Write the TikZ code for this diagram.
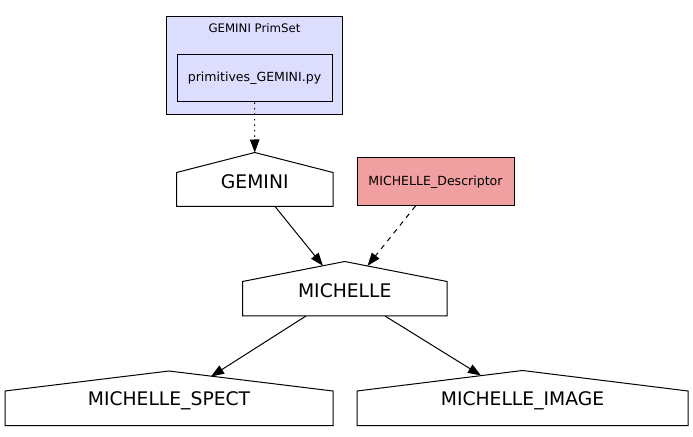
\documentclass[tikz,border=0pt]{standalone}
\usepackage{fontspec}
\setmainfont{DejaVu Sans}
\usetikzlibrary{arrows.meta}
\definecolor{lav}{RGB}{221,221,255}
\definecolor{descfill}{RGB}{240,160,160}
\newcommand{\myhouse}[6]{% name, left, right, peak y, shoulder y, bottom y
  \coordinate (#1-pk) at ({(#2+#3)/2},#4);
  \draw[housestyle] (#2,#5) -- (#1-pk) -- (#3,#5) -- (#3,#6) -- (#2,#6) -- cycle;
}
\begin{document}
\begin{tikzpicture}[x=1bp,y=-1bp,line width=1bp,
  edge/.style={draw,-{Triangle[length=13bp,width=9.5bp]}},
  housestyle/.style={draw,fill=white,line join=miter},
  bigtext/.style={font=\fontsize{18.8}{21}\selectfont,inner sep=0pt},
  smalltext/.style={font=\fontsize{12.6}{14}\selectfont,inner sep=0pt},
  titletext/.style={font=\fontsize{11.8}{13}\selectfont,inner sep=0pt},
  boxstyle/.style={draw,inner sep=0pt,smalltext}]
\useasboundingbox (0,0) rectangle (693,437);
\fill[white] (0,0) rectangle (693,437);

% cluster
\draw[fill=lav] (166.5,16.5) rectangle (342.5,114.5);
\node[titletext] (cltitle) at (254.5,28) {GEMINI PrimSet};
\node[boxstyle,fill=lav,minimum width=155bp,minimum height=47bp] (prim) at (254.5,78.5) {primitives\_GEMINI.py};

% descriptor
\node[boxstyle,fill=descfill,minimum width=157bp,minimum height=48bp] (desc) at (435.5,182) {MICHELLE\_Descriptor};

% houses
\myhouse{gem}{176.5}{333}{152.5}{172.5}{206.5}
\node[bigtext] (gemini) at (254.75,182) {GEMINI};

\myhouse{mic}{242.5}{447}{261.5}{281.5}{316}
\node[bigtext] (michelle) at (344.75,291) {MICHELLE};

\myhouse{spe}{5}{333}{371}{391}{425.5}
\node[bigtext] (spect) at (169,401) {MICHELLE\_SPECT};

\myhouse{ima}{357}{688}{370.5}{391}{425.5}
\node[bigtext] (image) at (522.5,401) {MICHELLE\_IMAGE};

% connector end points on the outlines
\coordinate (primout) at (prim.south);
\coordinate (gemout) at (275,206.5);
\coordinate (descout) at (415.5,206);
\coordinate (micinL) at (323,265.8);
\coordinate (micinR) at (367.5,265.8);
\coordinate (micoutL) at (306,316);
\coordinate (micoutR) at (385,316);
\coordinate (spein) at (211,376.5);
\coordinate (imain) at (481,375.5);

\draw[edge,dash pattern=on 1.5bp off 4bp] (primout) -- (gem-pk);
\draw[edge] (gemout) -- (micinL);
\draw[edge,dash pattern=on 5bp off 5bp] (descout) -- (micinR);
\draw[edge] (micoutL) -- (spein);
\draw[edge] (micoutR) -- (imain);
\end{tikzpicture}
\end{document}
